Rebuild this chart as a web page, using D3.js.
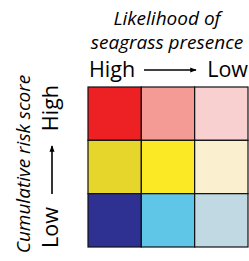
<!DOCTYPE html>
<html>
<head>
<meta charset="utf-8">
<script src="https://cdn.jsdelivr.net/npm/d3@7"></script>
<style>
  body { margin: 0; background: #fff; }
  text { font-family: "Open Sans", sans-serif; fill: #000; }
</style>
</head>
<body>
<div id="chart"></div>
<script>
// likelihood of seagrass presence (columns), risk score (rows, top = high)
const likelihood = ["High", "Medium", "Low"];
const risk = ["High", "Medium", "Low"];
const cellColors = [
  ["#ed2024", "#f59b96", "#f9d0d0"],
  ["#e6d52b", "#fbe926", "#faf0cf"],
  ["#2e3192", "#60c6e7", "#c1d9e3"],
];
const titleTop = ["Likelihood of", "seagrass presence"];
const yTitle = "Cumulative risk score";

const w = 249, h = 261;
const gLeft = 88, gRight = 248, gTop = 87, gBottom = 247;

const svg = d3.select("#chart").append("svg").attr("width", w).attr("height", h);

const x = d3.scaleBand().domain(likelihood).range([gLeft, gRight]);
const y = d3.scaleBand().domain(risk).range([gTop, gBottom]);

const cells = [];
risk.forEach((r, i) => {
  likelihood.forEach((l, j) => cells.push({ r, l, c: cellColors[i][j] }));
});

svg.selectAll("rect.cell")
  .data(cells)
  .enter()
  .append("rect")
  .attr("class", "cell")
  .attr("x", (d) => x(d.l))
  .attr("y", (d) => y(d.r))
  .attr("width", x.bandwidth())
  .attr("height", y.bandwidth())
  .attr("fill", (d) => d.c)
  .attr("stroke", "#111")
  .attr("stroke-width", 1.2);

// arrowhead
svg.append("defs")
  .append("marker")
  .attr("id", "arr")
  .attr("viewBox", "0 0 10 10")
  .attr("refX", 9)
  .attr("refY", 5)
  .attr("markerWidth", 4)
  .attr("markerHeight", 4)
  .attr("orient", "auto")
  .append("path")
  .attr("d", "M0,1 L10,5 L0,9 Z")
  .attr("fill", "#000");

const cx = (gLeft + gRight) / 2;

// top title
svg.selectAll("text.ttl")
  .data(titleTop)
  .enter()
  .append("text")
  .attr("class", "ttl")
  .attr("x", cx - 1)
  .attr("y", (d, i) => 25 + i * 24)
  .attr("text-anchor", "middle")
  .style("font-style", "italic")
  .style("font-size", "19px")
  .text((d) => d);

// High -> Low (horizontal)
svg.append("text")
  .attr("x", x(likelihood[0]) + 1)
  .attr("y", 77)
  .style("font-size", "21.5px")
  .text(likelihood[0]);
svg.append("text")
  .attr("x", gRight)
  .attr("y", 77)
  .attr("text-anchor", "end")
  .style("font-size", "21.5px")
  .text(likelihood[2]);
svg.append("line")
  .attr("x1", 144).attr("x2", 196)
  .attr("y1", 70).attr("y2", 70)
  .attr("stroke", "#000")
  .attr("stroke-width", 1.6)
  .attr("marker-end", "url(#arr)");

// y title (rotated)
svg.append("text")
  .attr("transform", `translate(30,${(gTop + gBottom) / 2 - 3}) rotate(-90)`)
  .attr("text-anchor", "middle")
  .style("font-style", "italic")
  .style("font-size", "19px")
  .text(yTitle);

// Low -> High (vertical)
svg.append("text")
  .attr("transform", `translate(58,${gBottom + 1}) rotate(-90)`)
  .style("font-size", "21.5px")
  .text(risk[2]);
svg.append("text")
  .attr("transform", `translate(58,${gTop - 2}) rotate(-90)`)
  .attr("text-anchor", "end")
  .style("font-size", "21.5px")
  .text(risk[0]);
svg.append("line")
  .attr("x1", 52).attr("x2", 52)
  .attr("y1", 194).attr("y2", 146)
  .attr("stroke", "#000")
  .attr("stroke-width", 1.6)
  .attr("marker-end", "url(#arr)");
</script>
</body>
</html>
